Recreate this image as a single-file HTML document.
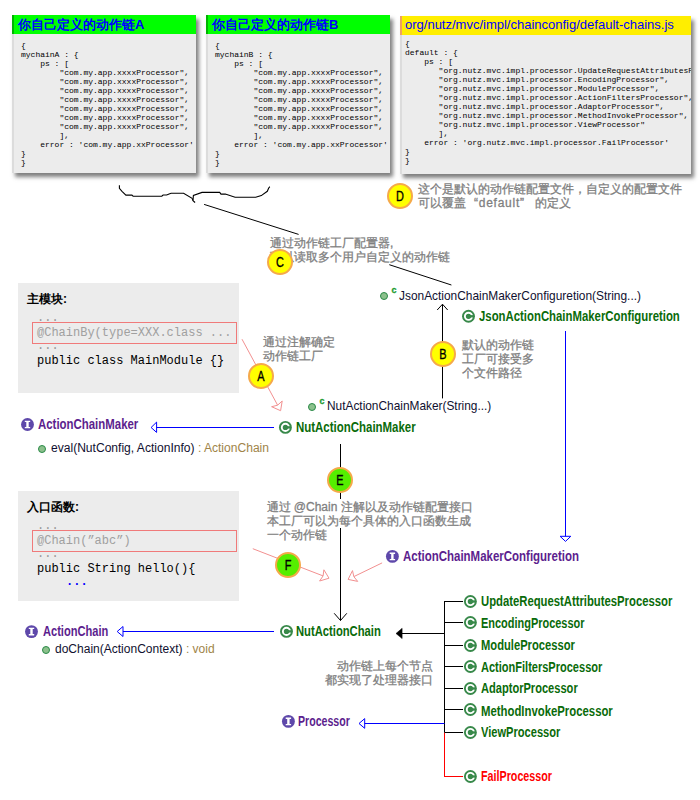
<!DOCTYPE html><html><head><meta charset="utf-8"><style>html,body{margin:0;padding:0;width:700px;height:800px;overflow:hidden;background:#fff;position:relative}</style></head><body><div style="position:absolute;left:12px;top:15px;width:184px;height:158px;background:#ececec;box-shadow:3px 4px 4px rgba(0,0,0,0.5);overflow:hidden">
<div style="position:absolute;left:0;top:0;width:184px;height:19px;background:#00ff00"></div>
<div style="position:absolute;left:0;top:0;width:2px;height:19px;background:#00b400"></div>
<div style="position:absolute;left:0;top:19px;width:2px;height:139px;background:#dcdcdc"></div>
<div style="position:absolute;left:6px;top:3.00px;font:bold 13px/13px 'Liberation Sans', sans-serif;color:#0000ff;white-space:pre">你自己定义的动作链A</div>
<div style="position:absolute;left:9px;top:25.87px;font:normal 8px/9px 'Liberation Mono', monospace;color:#000;white-space:pre">{
mychainA : {
    ps : [
        "com.my.app.xxxxProcessor",
        "com.my.app.xxxxProcessor",
        "com.my.app.xxxxProcessor",
        "com.my.app.xxxxProcessor",
        "com.my.app.xxxxProcessor",
        "com.my.app.xxxxProcessor",
        "com.my.app.xxxxProcessor",
        ],
    error : 'com.my.app.xxProcessor'
}
}</div>
</div>
<div style="position:absolute;left:206px;top:15px;width:184px;height:158px;background:#ececec;box-shadow:3px 4px 4px rgba(0,0,0,0.5);overflow:hidden">
<div style="position:absolute;left:0;top:0;width:184px;height:19px;background:#00ff00"></div>
<div style="position:absolute;left:0;top:0;width:2px;height:19px;background:#00b400"></div>
<div style="position:absolute;left:0;top:19px;width:2px;height:139px;background:#dcdcdc"></div>
<div style="position:absolute;left:6px;top:3.00px;font:bold 13px/13px 'Liberation Sans', sans-serif;color:#0000ff;white-space:pre">你自己定义的动作链B</div>
<div style="position:absolute;left:9px;top:25.87px;font:normal 8px/9px 'Liberation Mono', monospace;color:#000;white-space:pre">{
mychainB : {
    ps : [
        "com.my.app.xxxxProcessor",
        "com.my.app.xxxxProcessor",
        "com.my.app.xxxxProcessor",
        "com.my.app.xxxxProcessor",
        "com.my.app.xxxxProcessor",
        "com.my.app.xxxxProcessor",
        "com.my.app.xxxxProcessor",
        ],
    error : 'com.my.app.xxProcessor'
}
}</div>
</div>
<div style="position:absolute;left:400px;top:16px;width:291px;height:158px;background:#ececec;box-shadow:3px 4px 4px rgba(0,0,0,0.5);overflow:hidden">
<div style="position:absolute;left:0;top:0;width:291px;height:19px;background:#ffee00"></div>
<div style="position:absolute;left:0;top:0;width:2px;height:19px;background:#f0a060"></div>
<div style="position:absolute;left:0;top:19px;width:2px;height:139px;background:#dcdcdc"></div>
<div style="position:absolute;left:5px;top:2.00px;font:normal 13px/13px 'Liberation Sans', sans-serif;color:#0000ff;white-space:pre">org/nutz/mvc/impl/chainconfig/default-chains.js</div>
<div style="position:absolute;left:5px;top:23.37px;font:normal 8px/9px 'Liberation Mono', monospace;color:#000;white-space:pre">{
default : {
    ps : [
       "org.nutz.mvc.impl.processor.UpdateRequestAttributesProcessor",
       "org.nutz.mvc.impl.processor.EncodingProcessor",
       "org.nutz.mvc.impl.processor.ModuleProcessor",
       "org.nutz.mvc.impl.processor.ActionFiltersProcessor",
       "org.nutz.mvc.impl.processor.AdaptorProcessor",
       "org.nutz.mvc.impl.processor.MethodInvokeProcessor",
       "org.nutz.mvc.impl.processor.ViewProcessor"
       ],
    error : 'org.nutz.mvc.impl.processor.FailProcessor'
}
}</div>
</div>
<div style="position:absolute;left:18px;top:283px;width:221px;height:110px;background:#ececec"></div>
<div style="position:absolute;left:27.00px;top:293.34px;font:bold 12px/12px 'Liberation Sans', sans-serif;color:#000;white-space:pre;">主模块:</div>
<div style="position:absolute;left:32px;top:322.4px;width:205px;height:21.4px;border:1px solid #f07a7a;box-sizing:border-box"></div>
<div style="position:absolute;left:37px;top:312.00px;font:normal 12px/12px 'Liberation Mono', monospace;color:#999;white-space:pre;">...</div>
<div style="position:absolute;left:37px;top:326.50px;font:normal 12px/12px 'Liberation Mono', monospace;color:#a0a0a0;white-space:pre;">@ChainBy(type=XXX.class ...</div>
<div style="position:absolute;left:37px;top:340.00px;font:normal 12px/12px 'Liberation Mono', monospace;color:#999;white-space:pre;">...</div>
<div style="position:absolute;left:37px;top:354.50px;font:normal 12px/12px 'Liberation Mono', monospace;color:#000;white-space:pre;">public class MainModule {}</div>
<div style="position:absolute;left:18px;top:491px;width:221px;height:110px;background:#ececec"></div>
<div style="position:absolute;left:27.00px;top:501.34px;font:bold 12px/12px 'Liberation Sans', sans-serif;color:#000;white-space:pre;">入口函数:</div>
<div style="position:absolute;left:32px;top:530.4px;width:205px;height:21.4px;border:1px solid #f07a7a;box-sizing:border-box"></div>
<div style="position:absolute;left:37px;top:520.00px;font:normal 12px/12px 'Liberation Mono', monospace;color:#999;white-space:pre;">...</div>
<div style="position:absolute;left:37px;top:534.50px;font:normal 12px/12px 'Liberation Mono', monospace;color:#a0a0a0;white-space:pre;">@Chain(”abc”)</div>
<div style="position:absolute;left:37px;top:548.00px;font:normal 12px/12px 'Liberation Mono', monospace;color:#999;white-space:pre;">...</div>
<div style="position:absolute;left:37px;top:562.50px;font:normal 12px/12px 'Liberation Mono', monospace;color:#000;white-space:pre;">public String hello(){</div>
<div style="position:absolute;left:66px;top:576.00px;font:bold 12px/12px 'Liberation Mono', monospace;color:#0000ff;white-space:pre;">...</div>
<svg width="700" height="800" style="position:absolute;left:0;top:0"><polyline points="119.4,185.3 119.4,188.3 122.0,191.3 125.9,195.1 131.9,195.1 133.1,196.2 161.8,196.2 163.1,195.0 166.6,195.0 169.1,193.9 171.1,193.3 183.6,193.3 192.1,198.4 193.0,200.6 195.1,202.5" stroke="#000" stroke-width="1.1" fill="none" stroke-linejoin="miter"/><polyline points="193.0,200.5 193.4,195.4 202.0,192.4 219.7,192.4 221.0,194.1 225.3,194.1 235.1,197.3 255.7,197.3 261.3,195.6 267.3,191.3 268.6,188.3 269.8,186.6" stroke="#000" stroke-width="1.1" fill="none" stroke-linejoin="miter"/><line x1="204.1" y1="204.4" x2="298.6" y2="234.4" stroke="#000" stroke-width="1"/><line x1="389.3" y1="264.7" x2="451.4" y2="285" stroke="#000" stroke-width="1"/><line x1="442.5" y1="304.5" x2="442.5" y2="398.4" stroke="#000" stroke-width="1"/><polyline points="437.2,310.0 442.5,304.2 447.7,310.0" stroke="#000" stroke-width="1" fill="none" stroke-linejoin="miter"/><line x1="156.6" y1="427.5" x2="274" y2="427.5" stroke="#0000ff" stroke-width="1"/><polygon points="156.6,422.1 151.1,427.5 156.6,432.4" stroke="#0000ff" stroke-width="1" fill="none" stroke-linejoin="miter"/><line x1="340.5" y1="444" x2="340.5" y2="620.5" stroke="#000" stroke-width="1"/><polyline points="334.2,613.3 340.5,620.5 346.8,613.3" stroke="#000" stroke-width="1" fill="none" stroke-linejoin="miter"/><line x1="565.5" y1="331" x2="565.5" y2="536.3" stroke="#0000ff" stroke-width="1"/><polygon points="560.1,536.3 570.8,536.3 565.5,541.4" stroke="#0000ff" stroke-width="1" fill="none" stroke-linejoin="miter"/><line x1="242" y1="339.2" x2="277.60716215403477" y2="405.15627186563427" stroke="#f29090" stroke-width="1"/><polygon points="280.6,410.7 271.6,406.7 277.6,405.2 282.2,401.0" stroke="#f29090" stroke-width="1" fill="#fff" stroke-linejoin="miter"/><line x1="252.8" y1="548.7" x2="323.12490471443465" y2="575.9255208540135" stroke="#f29090" stroke-width="1"/><polygon points="329.0,578.2 319.6,581.0 323.1,575.9 323.9,569.8" stroke="#f29090" stroke-width="1" fill="#fff" stroke-linejoin="miter"/><line x1="382.1" y1="562.9" x2="353.76783697583096" y2="576.6494320558468" stroke="#f29090" stroke-width="1"/><polygon points="348.1,579.4 352.5,570.6 353.8,576.6 357.7,581.4" stroke="#f29090" stroke-width="1" fill="#fff" stroke-linejoin="miter"/><line x1="123" y1="631.5" x2="274" y2="631.5" stroke="#0000ff" stroke-width="1"/><polygon points="123.0,626.5 117.2,631.5 123.0,636.5" stroke="#0000ff" stroke-width="1" fill="none" stroke-linejoin="miter"/><line x1="402" y1="633.5" x2="444.5" y2="633.5" stroke="#000" stroke-width="1"/><polygon points="402.1,628.3 396.0,633.5 402.1,638.6" stroke="#000" stroke-width="0.5" fill="#000" stroke-linejoin="miter"/><line x1="444.5" y1="601" x2="444.5" y2="732.5" stroke="#000" stroke-width="1"/><line x1="444.5" y1="732.5" x2="444.5" y2="776.5" stroke="#ff0000" stroke-width="1"/><line x1="444.5" y1="601.5" x2="463" y2="601.5" stroke="#000" stroke-width="1"/><line x1="444.5" y1="622.5" x2="463" y2="622.5" stroke="#000" stroke-width="1"/><line x1="444.5" y1="645.5" x2="463" y2="645.5" stroke="#000" stroke-width="1"/><line x1="444.5" y1="666.5" x2="463" y2="666.5" stroke="#000" stroke-width="1"/><line x1="444.5" y1="688.5" x2="463" y2="688.5" stroke="#000" stroke-width="1"/><line x1="444.5" y1="709.5" x2="463" y2="709.5" stroke="#000" stroke-width="1"/><line x1="444.5" y1="732.5" x2="463" y2="732.5" stroke="#000" stroke-width="1"/><line x1="444" y1="776.5" x2="463" y2="776.5" stroke="#ff0000" stroke-width="1"/><line x1="364.7" y1="723.5" x2="444.5" y2="723.5" stroke="#0000ff" stroke-width="1"/><polygon points="364.7,718.6 359.0,723.5 364.7,728.3" stroke="#0000ff" stroke-width="1" fill="none" stroke-linejoin="miter"/></svg>
<div style="position:absolute;left:330px;top:499px;width:20px;height:28px;background:#fff"></div>
<div style="position:absolute;left:380.0px;top:292.0px;width:8px;height:8px;border-radius:50%;background:#8cc08c;border:1.2px solid #2a8a48;box-sizing:border-box"></div>
<div style="position:absolute;left:391.5px;top:285.5px;font:bold 9px/9px 'Liberation Sans', sans-serif;color:#1a9a30;-webkit-text-stroke:0.3px #1a9a30">c</div>
<div style="position:absolute;left:399.00px;top:288.80px;font:normal 13px/13px 'Liberation Sans', sans-serif;color:#101030;white-space:pre;transform:scaleX(0.9150);transform-origin:0 0;">JsonActionChainMakerConfiguretion(String...)</div>
<div style="position:absolute;left:478.60px;top:308.85px;font:bold 14px/14px 'Liberation Sans', sans-serif;color:#0a6b0a;white-space:pre;transform:scaleX(0.8118);transform-origin:0 0;">JsonActionChainMakerConfiguretion</div>
<div style="position:absolute;left:308.0px;top:402.6px;width:8px;height:8px;border-radius:50%;background:#8cc08c;border:1.2px solid #2a8a48;box-sizing:border-box"></div>
<div style="position:absolute;left:319.5px;top:397.2px;font:bold 9px/9px 'Liberation Sans', sans-serif;color:#1a9a30;-webkit-text-stroke:0.3px #1a9a30">c</div>
<div style="position:absolute;left:327.40px;top:398.70px;font:normal 13px/13px 'Liberation Sans', sans-serif;color:#101030;white-space:pre;transform:scaleX(0.9133);transform-origin:0 0;">NutActionChainMaker(String...)</div>
<div style="position:absolute;left:295.90px;top:419.65px;font:bold 14px/14px 'Liberation Sans', sans-serif;color:#0a6b0a;white-space:pre;transform:scaleX(0.8185);transform-origin:0 0;">NutActionChainMaker</div>
<div style="position:absolute;left:38.10px;top:416.85px;font:bold 14px/14px 'Liberation Sans', sans-serif;color:#5c1e8e;white-space:pre;transform:scaleX(0.8160);transform-origin:0 0;">ActionChainMaker</div>
<div style="position:absolute;left:38.0px;top:445.0px;width:8px;height:8px;border-radius:50%;background:#8cc08c;border:1.2px solid #2a8a48;box-sizing:border-box"></div>
<div style="position:absolute;left:50.60px;top:441.64px;font:normal 12px/12px 'Liberation Sans', sans-serif;color:#101030;white-space:pre;transform:scaleX(1.0055);transform-origin:0 0;">eval(NutConfig, ActionInfo)<span style="color:#a08448"> : ActionChain</span></div>
<div style="position:absolute;left:403.00px;top:548.85px;font:bold 14px/14px 'Liberation Sans', sans-serif;color:#5c1e8e;white-space:pre;transform:scaleX(0.8199);transform-origin:0 0;">ActionChainMakerConfiguretion</div>
<div style="position:absolute;left:296.40px;top:623.75px;font:bold 14px/14px 'Liberation Sans', sans-serif;color:#0a6b0a;white-space:pre;transform:scaleX(0.8018);transform-origin:0 0;">NutActionChain</div>
<div style="position:absolute;left:42.50px;top:624.05px;font:bold 14px/14px 'Liberation Sans', sans-serif;color:#5c1e8e;white-space:pre;transform:scaleX(0.7920);transform-origin:0 0;">ActionChain</div>
<div style="position:absolute;left:42.0px;top:645.7px;width:8px;height:8px;border-radius:50%;background:#8cc08c;border:1.2px solid #2a8a48;box-sizing:border-box"></div>
<div style="position:absolute;left:55.10px;top:642.84px;font:normal 12px/12px 'Liberation Sans', sans-serif;color:#101030;white-space:pre;transform:scaleX(1.0011);transform-origin:0 0;">doChain(ActionContext)<span style="color:#a08448"> : void</span></div>
<div style="position:absolute;left:298.30px;top:713.85px;font:bold 14px/14px 'Liberation Sans', sans-serif;color:#5c1e8e;white-space:pre;transform:scaleX(0.7564);transform-origin:0 0;">Processor</div>
<div style="position:absolute;left:481.30px;top:593.65px;font:bold 14px/14px 'Liberation Sans', sans-serif;color:#0a6b0a;white-space:pre;transform:scaleX(0.8062);transform-origin:0 0;">UpdateRequestAttributesProcessor</div>
<div style="position:absolute;left:481.30px;top:615.55px;font:bold 14px/14px 'Liberation Sans', sans-serif;color:#0a6b0a;white-space:pre;transform:scaleX(0.7825);transform-origin:0 0;">EncodingProcessor</div>
<div style="position:absolute;left:481.30px;top:637.75px;font:bold 14px/14px 'Liberation Sans', sans-serif;color:#0a6b0a;white-space:pre;transform:scaleX(0.7993);transform-origin:0 0;">ModuleProcessor</div>
<div style="position:absolute;left:481.30px;top:659.75px;font:bold 14px/14px 'Liberation Sans', sans-serif;color:#0a6b0a;white-space:pre;transform:scaleX(0.7873);transform-origin:0 0;">ActionFiltersProcessor</div>
<div style="position:absolute;left:481.30px;top:681.45px;font:bold 14px/14px 'Liberation Sans', sans-serif;color:#0a6b0a;white-space:pre;transform:scaleX(0.7916);transform-origin:0 0;">AdaptorProcessor</div>
<div style="position:absolute;left:481.30px;top:703.55px;font:bold 14px/14px 'Liberation Sans', sans-serif;color:#0a6b0a;white-space:pre;transform:scaleX(0.8105);transform-origin:0 0;">MethodInvokeProcessor</div>
<div style="position:absolute;left:481.30px;top:725.25px;font:bold 14px/14px 'Liberation Sans', sans-serif;color:#0a6b0a;white-space:pre;transform:scaleX(0.7919);transform-origin:0 0;">ViewProcessor</div>
<div style="position:absolute;left:481.30px;top:769.45px;font:bold 14px/14px 'Liberation Sans', sans-serif;color:#ff0000;white-space:pre;transform:scaleX(0.7667);transform-origin:0 0;">FailProcessor</div>
<div style="position:absolute;left:417.5px;top:182px;font:400 12px/14px 'Liberation Sans', sans-serif;color:#7f7f7f;-webkit-text-stroke:0.3px #7f7f7f;white-space:pre;text-align:left;">这个是默认的动作链配置文件，自定义的配置文件
可以覆盖<span style="margin-left:8.5px;letter-spacing:0.75px">“default”</span><span style="margin-left:10px">的定义</span></div>
<div style="position:absolute;left:270px;top:236px;font:400 12px/14px 'Liberation Sans', sans-serif;color:#7f7f7f;-webkit-text-stroke:0.3px #7f7f7f;white-space:pre;text-align:left;">通过动作链工厂配置器,
可以读取多个用户自定义的动作链</div>
<div style="position:absolute;left:461.5px;top:337.5px;font:400 12px/14px 'Liberation Sans', sans-serif;color:#7f7f7f;-webkit-text-stroke:0.3px #7f7f7f;white-space:pre;text-align:left;">默认的动作链
工厂可接受多
个文件路径</div>
<div style="position:absolute;left:262.5px;top:334.5px;font:400 12px/14px 'Liberation Sans', sans-serif;color:#7f7f7f;-webkit-text-stroke:0.3px #7f7f7f;white-space:pre;text-align:left;">通过注解确定
动作链工厂</div>
<div style="position:absolute;left:266.5px;top:500px;font:400 12px/14px 'Liberation Sans', sans-serif;color:#7f7f7f;-webkit-text-stroke:0.3px #7f7f7f;white-space:pre"><span style="background:#fff">通过 @Chain 注解以及动作链配置接口</span>
<span style="background:#fff">本工厂可以为每个具体的入口函数生成</span>
一个动作链</div>
<div style="position:absolute;left:233.2px;top:658.5px;font:400 12px/14px 'Liberation Sans', sans-serif;color:#7f7f7f;-webkit-text-stroke:0.3px #7f7f7f;white-space:pre;text-align:right;width:200px;">动作链上每个节点
都实现了处理器接口</div>
<div style="position:absolute;left:387.0px;top:183.0px;width:26px;height:26px;border-radius:50%;background:#ffff00;border:2px solid #f5a94a;box-sizing:border-box"></div>
<div style="position:absolute;left:390.0px;top:189.1px;width:20px;text-align:center;font:normal 14px/14px 'Liberation Sans', sans-serif;color:#000;-webkit-text-stroke:0.35px #000;transform:scaleX(0.78);transform-origin:50% 0">D</div>
<div style="position:absolute;left:267.0px;top:248.5px;width:26px;height:26px;border-radius:50%;background:#ffff00;border:2px solid #f5a94a;box-sizing:border-box"></div>
<div style="position:absolute;left:270.0px;top:254.6px;width:20px;text-align:center;font:normal 14px/14px 'Liberation Sans', sans-serif;color:#000;-webkit-text-stroke:0.35px #000;transform:scaleX(0.78);transform-origin:50% 0">C</div>
<div style="position:absolute;left:430.0px;top:340.9px;width:26px;height:26px;border-radius:50%;background:#ffff00;border:2px solid #f5a94a;box-sizing:border-box"></div>
<div style="position:absolute;left:433.0px;top:347.0px;width:20px;text-align:center;font:normal 14px/14px 'Liberation Sans', sans-serif;color:#000;-webkit-text-stroke:0.35px #000;transform:scaleX(0.78);transform-origin:50% 0">B</div>
<div style="position:absolute;left:248.0px;top:363.0px;width:26px;height:26px;border-radius:50%;background:#ffff00;border:2px solid #f5a94a;box-sizing:border-box"></div>
<div style="position:absolute;left:251.0px;top:369.1px;width:20px;text-align:center;font:normal 14px/14px 'Liberation Sans', sans-serif;color:#000;-webkit-text-stroke:0.35px #000;transform:scaleX(0.78);transform-origin:50% 0">A</div>
<div style="position:absolute;left:327.1px;top:466.9px;width:26px;height:26px;border-radius:50%;background:#55ee00;border:2px solid #f5a94a;box-sizing:border-box"></div>
<div style="position:absolute;left:330.1px;top:473.0px;width:20px;text-align:center;font:normal 14px/14px 'Liberation Sans', sans-serif;color:#000;-webkit-text-stroke:0.35px #000;transform:scaleX(0.78);transform-origin:50% 0">E</div>
<div style="position:absolute;left:275.0px;top:552.0px;width:26px;height:26px;border-radius:50%;background:#55ee00;border:2px solid #f5a94a;box-sizing:border-box"></div>
<div style="position:absolute;left:278.0px;top:558.1px;width:20px;text-align:center;font:normal 14px/14px 'Liberation Sans', sans-serif;color:#000;-webkit-text-stroke:0.35px #000;transform:scaleX(0.78);transform-origin:50% 0">F</div>
<svg width="700" height="800" style="position:absolute;left:0;top:0"><g transform="translate(461.50,309.30)"><circle cx="7" cy="7" r="6.45" fill="#38894a"/><circle cx="7" cy="7" r="3.6" fill="none" stroke="#fff" stroke-width="1.9"/><rect x="7" y="5.8" width="5.5" height="2.4" fill="#38894a"/><ellipse cx="7" cy="7" rx="1.8" ry="2.2" fill="#38894a"/></g><g transform="translate(278.40,420.40)"><circle cx="7" cy="7" r="6.45" fill="#38894a"/><circle cx="7" cy="7" r="3.6" fill="none" stroke="#fff" stroke-width="1.9"/><rect x="7" y="5.8" width="5.5" height="2.4" fill="#38894a"/><ellipse cx="7" cy="7" rx="1.8" ry="2.2" fill="#38894a"/></g><g transform="translate(20.50,417.50)"><circle cx="7" cy="7" r="6.45" fill="#5e48aa"/><path d="M4.3 3.2h5.4v1.3h-1.5v5h1.5v1.3h-5.4v-1.3h1.5v-5h-1.5z" fill="#fff"/></g><g transform="translate(385.40,549.40)"><circle cx="7" cy="7" r="6.45" fill="#5e48aa"/><path d="M4.3 3.2h5.4v1.3h-1.5v5h1.5v1.3h-5.4v-1.3h1.5v-5h-1.5z" fill="#fff"/></g><g transform="translate(279.50,624.40)"><circle cx="7" cy="7" r="6.45" fill="#38894a"/><circle cx="7" cy="7" r="3.6" fill="none" stroke="#fff" stroke-width="1.9"/><rect x="7" y="5.8" width="5.5" height="2.4" fill="#38894a"/><ellipse cx="7" cy="7" rx="1.8" ry="2.2" fill="#38894a"/></g><g transform="translate(24.50,624.60)"><circle cx="7" cy="7" r="6.45" fill="#5e48aa"/><path d="M4.3 3.2h5.4v1.3h-1.5v5h1.5v1.3h-5.4v-1.3h1.5v-5h-1.5z" fill="#fff"/></g><g transform="translate(281.40,714.40)"><circle cx="7" cy="7" r="6.45" fill="#5e48aa"/><path d="M4.3 3.2h5.4v1.3h-1.5v5h1.5v1.3h-5.4v-1.3h1.5v-5h-1.5z" fill="#fff"/></g><g transform="translate(463.40,594.50)"><circle cx="7" cy="7" r="6.45" fill="#38894a"/><circle cx="7" cy="7" r="3.6" fill="none" stroke="#fff" stroke-width="1.9"/><rect x="7" y="5.8" width="5.5" height="2.4" fill="#38894a"/><ellipse cx="7" cy="7" rx="1.8" ry="2.2" fill="#38894a"/></g><g transform="translate(463.40,615.50)"><circle cx="7" cy="7" r="6.45" fill="#38894a"/><circle cx="7" cy="7" r="3.6" fill="none" stroke="#fff" stroke-width="1.9"/><rect x="7" y="5.8" width="5.5" height="2.4" fill="#38894a"/><ellipse cx="7" cy="7" rx="1.8" ry="2.2" fill="#38894a"/></g><g transform="translate(463.40,638.50)"><circle cx="7" cy="7" r="6.45" fill="#38894a"/><circle cx="7" cy="7" r="3.6" fill="none" stroke="#fff" stroke-width="1.9"/><rect x="7" y="5.8" width="5.5" height="2.4" fill="#38894a"/><ellipse cx="7" cy="7" rx="1.8" ry="2.2" fill="#38894a"/></g><g transform="translate(463.40,659.50)"><circle cx="7" cy="7" r="6.45" fill="#38894a"/><circle cx="7" cy="7" r="3.6" fill="none" stroke="#fff" stroke-width="1.9"/><rect x="7" y="5.8" width="5.5" height="2.4" fill="#38894a"/><ellipse cx="7" cy="7" rx="1.8" ry="2.2" fill="#38894a"/></g><g transform="translate(463.40,681.50)"><circle cx="7" cy="7" r="6.45" fill="#38894a"/><circle cx="7" cy="7" r="3.6" fill="none" stroke="#fff" stroke-width="1.9"/><rect x="7" y="5.8" width="5.5" height="2.4" fill="#38894a"/><ellipse cx="7" cy="7" rx="1.8" ry="2.2" fill="#38894a"/></g><g transform="translate(463.40,702.50)"><circle cx="7" cy="7" r="6.45" fill="#38894a"/><circle cx="7" cy="7" r="3.6" fill="none" stroke="#fff" stroke-width="1.9"/><rect x="7" y="5.8" width="5.5" height="2.4" fill="#38894a"/><ellipse cx="7" cy="7" rx="1.8" ry="2.2" fill="#38894a"/></g><g transform="translate(463.40,725.50)"><circle cx="7" cy="7" r="6.45" fill="#38894a"/><circle cx="7" cy="7" r="3.6" fill="none" stroke="#fff" stroke-width="1.9"/><rect x="7" y="5.8" width="5.5" height="2.4" fill="#38894a"/><ellipse cx="7" cy="7" rx="1.8" ry="2.2" fill="#38894a"/></g><g transform="translate(463.40,769.50)"><circle cx="7" cy="7" r="6.45" fill="#38894a"/><circle cx="7" cy="7" r="3.6" fill="none" stroke="#fff" stroke-width="1.9"/><rect x="7" y="5.8" width="5.5" height="2.4" fill="#38894a"/><ellipse cx="7" cy="7" rx="1.8" ry="2.2" fill="#38894a"/></g></svg></body></html>
